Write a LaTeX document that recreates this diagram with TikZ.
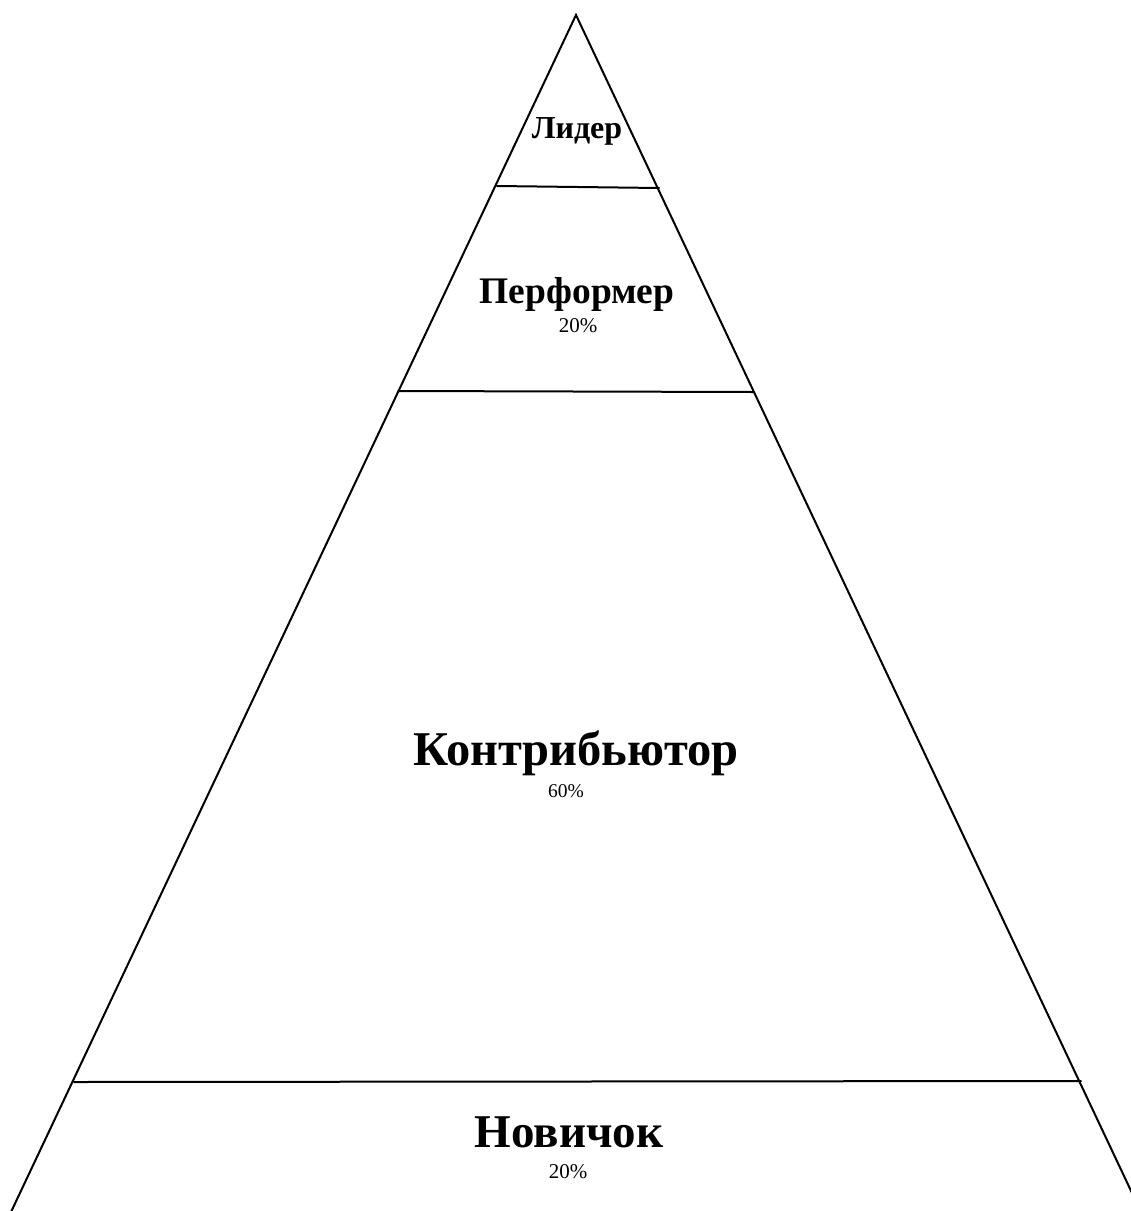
\documentclass[tikz,border=0pt]{standalone}
\usepackage{fontspec}
\setmainfont{Liberation Serif}
\begin{document}
\begin{tikzpicture}[x=1pt,y=-1pt,
  edge/.style={line width=2pt,line cap=round},
  title/.style={anchor=base,inner sep=0pt,font=\bfseries},
  pct/.style={anchor=base,inner sep=0pt,font=\fontsize{21}{24}\selectfont}]
\useasboundingbox[fill=white] (0,0) rectangle (1131,1211);
\coordinate (apex) at (576,15);
\coordinate (bl) at (11,1212);
\coordinate (br) at (1141,1212);
\draw[edge] (bl) -- (apex) -- (br);
\coordinate (l1a) at (497,186); \coordinate (l1b) at (659,188);
\coordinate (l2a) at (398,391); \coordinate (l2b) at (753,392);
\coordinate (l3a) at (74,1082); \coordinate (l3b) at (1081,1081);
\draw[edge] (l1a) -- (l1b);
\draw[edge] (l2a) -- (l2b);
\draw[edge] (l3a) -- (l3b);
\node[title,font=\bfseries\fontsize{32}{36}\selectfont] (lider) at (577,138) {Лидер};
\node[title,font=\bfseries\fontsize{37.5}{42}\selectfont] (perf) at (577,303) {Перформер};
\node[pct] (perfp) at (578,332) {20\%};
\node[title,font=\bfseries\fontsize{48.5}{52}\selectfont] (contr) at (576,765) {Контрибьютор};
\node[pct,font=\fontsize{19.5}{22}\selectfont] (contrp) at (566,797) {60\%};
\node[title,font=\bfseries\fontsize{47}{50}\selectfont] (nov) at (569,1147) {Новичок};
\node[pct] (novp) at (568,1178) {20\%};
\end{tikzpicture}
\end{document}
